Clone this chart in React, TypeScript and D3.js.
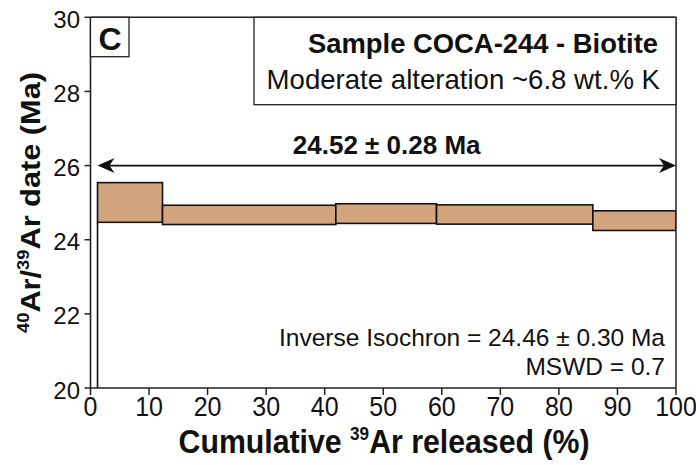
import React, { useLayoutEffect, useRef, useState } from "react";
import * as d3 from "d3";

// ---- data ----
const stepBoundaries = [0, 1.2, 12.3, 41.9, 59.1, 85.8, 100]; // cumulative 39Ar (%)
const stepAgeLow = [16.0, 24.47, 24.41, 24.44, 24.42, 24.25]; // Ma
const stepAgeHigh = [19.0, 25.54, 24.93, 24.97, 24.94, 24.78]; // Ma
const plateauAge = 26.0; // arrow height (Ma)
const plateauStart = 1.2;
const plateauEnd = 100;
const xTicks = [0, 10, 20, 30, 40, 50, 60, 70, 80, 90, 100];
const yTicks = [20, 22, 24, 26, 28, 30];
const panelLabel = "C";
const titleLine1 = "Sample COCA-244 - Biotite";
const titleLine2 = "Moderate alteration ~6.8 wt.% K";
const plateauLabel = "24.52 ± 0.28 Ma";
const isochronLabel = "Inverse Isochron = 24.46 ± 0.30 Ma";
const mswdLabel = "MSWD = 0.7";

const W = 696;
const H = 465;
const M = { left: 90.5, right: 20, top: 17.3, bottom: 77 };
const FONT = "'Liberation Sans', Arial, Helvetica, sans-serif";
const FILL = "#d3a57f";
const X_TITLE_LEN = 411;
const Y_TITLE_LEN = 261;

export default function App() {
  const x = d3.scaleLinear().domain([0, 100]).range([M.left, W - M.right]);
  const y = d3.scaleLinear().domain([20, 30]).range([H - M.bottom, M.top]);
  const x0 = x(0), x1 = x(100), y0 = y(20), y1 = y(30);

  const xTitleRef = useRef<SVGTextElement>(null);
  const yTitleRef = useRef<SVGTextElement>(null);
  const [sx, setSx] = useState(1);
  const [sy, setSy] = useState(1);
  useLayoutEffect(() => {
    if (xTitleRef.current) {
      const w = xTitleRef.current.getBBox().width;
      if (w > 0) setSx(X_TITLE_LEN / w);
    }
    if (yTitleRef.current) {
      const w = yTitleRef.current.getBBox().width;
      if (w > 0) setSy(Y_TITLE_LEN / w);
    }
  }, []);

  const steps = stepAgeLow.map((lo, i) => ({
    start: stepBoundaries[i],
    end: stepBoundaries[i + 1],
    lo,
    hi: stepAgeHigh[i],
  }));

  const connectors: { cx: number; a: number; b: number }[] = [];
  for (let i = 1; i < steps.length; i++) {
    const p = steps[i - 1], c = steps[i];
    if (p.hi < c.lo) connectors.push({ cx: c.start, a: p.hi, b: c.lo });
    else if (p.lo > c.hi) connectors.push({ cx: c.start, a: c.hi, b: p.lo });
  }

  const ay = y(plateauAge);
  const ax0 = x(plateauStart);
  const ax1 = x(plateauEnd);
  const headL = 17, headW = 7.5, notch = 5;
  const leftHead = `M${ax0},${ay} L${ax0 + headL},${ay - headW} L${ax0 + headL - notch},${ay} L${ax0 + headL},${ay + headW} Z`;
  const rightHead = `M${ax1},${ay} L${ax1 - headL},${ay - headW} L${ax1 - headL + notch},${ay} L${ax1 - headL},${ay + headW} Z`;

  return (
    <svg
      width={W}
      height={H}
      style={{ position: "absolute", left: 0, top: 0, background: "#fff" }}
      fontFamily={FONT}
    >
      <defs>
        <clipPath id="plotClip">
          <rect x={x0} y={y1} width={x1 - x0} height={y0 - y1} />
        </clipPath>
      </defs>

      {/* steps */}
      <g clipPath="url(#plotClip)">
        {steps.map((s, i) => (
          <rect
            key={i}
            x={x(s.start)}
            y={y(s.hi)}
            width={x(s.end) - x(s.start)}
            height={y(s.lo) - y(s.hi)}
            fill={FILL}
            stroke="#111"
            strokeWidth={1.6}
          />
        ))}
        {connectors.map((c, i) => (
          <line
            key={i}
            x1={x(c.cx)}
            x2={x(c.cx)}
            y1={y(c.a)}
            y2={y(c.b)}
            stroke="#111"
            strokeWidth={1.6}
          />
        ))}
      </g>

      {/* frame */}
      <line x1={x0} x2={x1} y1={y1} y2={y1} stroke="#222" strokeWidth={1.5} />
      <line x1={x1} x2={x1} y1={y1} y2={y0} stroke="#222" strokeWidth={1.5} />

      {/* axes */}
      <line x1={x0} x2={x1} y1={y0} y2={y0} stroke="#222" strokeWidth={1.6} />
      <line x1={x0} x2={x0} y1={y1} y2={y0} stroke="#222" strokeWidth={1.6} />
      {xTicks.map((t) => (
        <g key={t}>
          <line x1={x(t)} x2={x(t)} y1={y0} y2={y0 + 7} stroke="#222" strokeWidth={1.5} />
          <text
            transform={`translate(${x(t)},416) scale(1,1.1)`}
            textAnchor="middle"
            fontSize={25}
            fill="#111"
          >
            {t}
          </text>
        </g>
      ))}
      {yTicks.map((t) => (
        <g key={t}>
          <line x1={x0 - 6} x2={x0} y1={y(t)} y2={y(t)} stroke="#222" strokeWidth={1.5} />
          <text x={80} y={y(t) + 10.5} textAnchor="end" fontSize={24} fill="#111">
            {t}
          </text>
        </g>
      ))}

      {/* axis titles */}
      <g transform={`translate(384,453) scale(${sx},1.08)`}>
        <text ref={xTitleRef} textAnchor="middle" fontSize={30} fontWeight="bold" fill="#111">
          Cumulative{" "}
          <tspan fontSize={17} dy={-12}>39</tspan>
          <tspan dy={12}>Ar released (%)</tspan>
        </text>
      </g>
      <g transform={`translate(40,202.5) rotate(-90) scale(${sy},1)`}>
        <text ref={yTitleRef} textAnchor="middle" fontSize={28.5} fontWeight="bold" fill="#111">
          <tspan fontSize={17} dy={-11}>40</tspan>
          <tspan dy={11}>Ar/</tspan>
          <tspan fontSize={17} dy={-11}>39</tspan>
          <tspan dy={11}>Ar date (Ma)</tspan>
        </text>
      </g>

      {/* panel label */}
      <rect x={x0} y={y1} width={38.5} height={39.4} fill="#fff" stroke="#222" strokeWidth={1.3} />
      <text x={x0 + 19.5} y={50} textAnchor="middle" fontSize={32} fontWeight="bold" fill="#111">
        {panelLabel}
      </text>

      {/* sample box */}
      <rect x={254} y={y1} width={x1 - 254} height={104.7 - y1} fill="#fff" stroke="#222" strokeWidth={1.3} />
      <text x={658} y={52.5} textAnchor="end" fontSize={27.4} fontWeight="bold" fill="#111">
        {titleLine1}
      </text>
      <text x={660} y={89} textAnchor="end" fontSize={27.6} fill="#111">
        {titleLine2}
      </text>

      {/* plateau arrow */}
      <line x1={ax0 + 6} x2={ax1 - 6} y1={ay} y2={ay} stroke="#111" strokeWidth={1.6} />
      <path d={leftHead} fill="#111" />
      <path d={rightHead} fill="#111" />
      <text x={386.7} y={154} textAnchor="middle" fontSize={26} fontWeight="bold" fill="#111">
        {plateauLabel}
      </text>

      {/* isochron text */}
      <text x={665} y={346} textAnchor="end" fontSize={24.5} fill="#111">
        {isochronLabel}
      </text>
      <text x={665} y={375} textAnchor="end" fontSize={24.5} fill="#111">
        {mswdLabel}
      </text>
    </svg>
  );
}
